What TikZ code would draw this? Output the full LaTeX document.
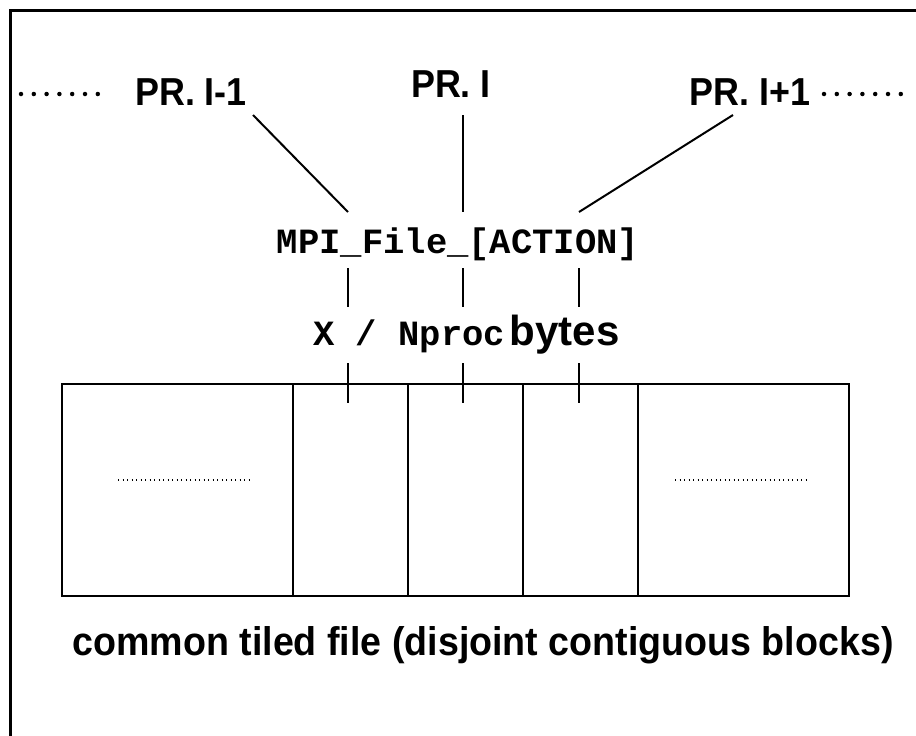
\documentclass[tikz,border=0pt]{standalone}
\usepackage{fontspec}
\setmainfont{Liberation Sans}
\setmonofont{Liberation Mono}
\usetikzlibrary{positioning}

\tikzset{
  prlabel/.style={font=\fontsize{39}{44}\selectfont\bfseries, inner sep=0pt, anchor=base},
  codetext/.style={font=\fontsize{35.5}{40}\selectfont\ttfamily\bfseries, inner sep=0pt},
  link/.style={line width=2pt},
  block/.style={draw, line width=2pt, inner sep=0pt, anchor=north west},
  bigdots/.style={line width=4.5pt, dash pattern=on 0pt off 12.8pt, line cap=round},
  smalldots/.style={line width=1.4pt, dash pattern=on 1.4pt off 3.1pt}
}
\newcommand{\narrow}[1]{\scalebox{0.92}[1]{#1}}

\begin{document}
\begin{tikzpicture}[x=1pt, y=-1pt]
  \useasboundingbox (0,0) rectangle (916,736);
  % frame
  \draw[line width=3pt] (10,740) -- (10,10) -- (920,10);

  % processes
  \node[prlabel] (prm) at (191,105) {\narrow{PR. I-1}};
  \node[prlabel] (pr) at (451,97) {\narrow{PR. I}};
  \node[prlabel] (prp) at (750,105) {\narrow{PR. I+1}};
  \coordinate (dotsl-a) at (21,94);
  \coordinate (dotsl-b) at (98,94);
  \coordinate (dotsr-a) at (824,94);
  \coordinate (dotsr-b) at (901,94);
  \draw[bigdots] (dotsl-a) -- (dotsl-b);
  \draw[bigdots] (dotsr-a) -- (dotsr-b);

  % call
  \node[codetext, anchor=base] (call) at (458,253) {MPI\_File\_[ACTION]};
  \node[codetext, anchor=base west] (size) at (313,345)
    {X / Nproc\hspace{5pt}{\rmfamily\fontsize{42}{46}\selectfont bytes}};

  \coordinate (prm-foot) at (253,115);
  \coordinate (pr-foot) at (463,115);
  \coordinate (prp-foot) at (733,115);
  \foreach \x/\n in {348/1, 463/2, 579/3} {
    \coordinate (in\n) at (\x,212);
    \coordinate (out\n) at (\x,268);
    \coordinate (mid\n) at (\x,307);
    \coordinate (top\n) at (\x,363);
    \coordinate (end\n) at (\x,403);
  }
  \draw[link] (prm-foot) -- (in1);
  \draw[link] (pr-foot) -- (in2);
  \draw[link] (prp-foot) -- (in3);

  % file blocks
  \foreach \l/\r/\n in {61/292/1, 292/407/2, 407/522/3, 522/637/4, 637/848/5}
    \node[block, minimum width=(\r-\l)*1pt, minimum height=212pt] (b\n) at (\l,383) {};

  \foreach \n in {1,2,3} {
    \draw[link] (out\n) -- (mid\n);
    \draw[link] (top\n) -- (end\n);
  }

  \coordinate (gapl-a) at (118,480);
  \coordinate (gapl-b) at (252,480);
  \coordinate (gapr-a) at (675,480);
  \coordinate (gapr-b) at (808,480);
  \draw[smalldots] (gapl-a) -- (gapl-b);
  \draw[smalldots] (gapr-a) -- (gapr-b);

  \node[font=\fontsize{40}{46}\selectfont\bfseries, inner sep=0pt, anchor=base] (caption) at (483,655)
    {\scalebox{0.94}[1]{common tiled file (disjoint contiguous blocks)}};
\end{tikzpicture}
\end{document}
